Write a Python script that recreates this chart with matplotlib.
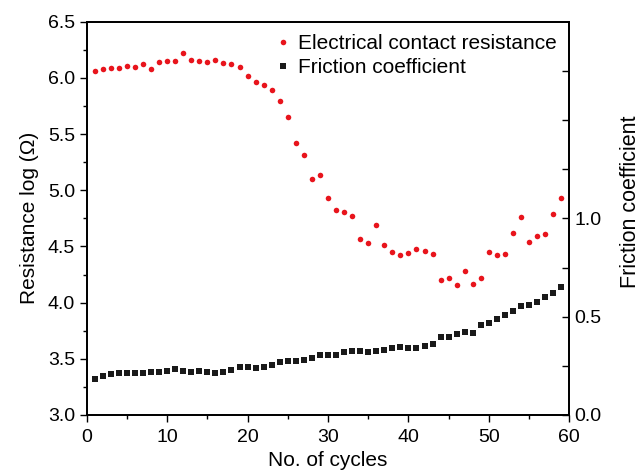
import matplotlib
matplotlib.use("Agg")
import matplotlib.pyplot as plt
from matplotlib.ticker import MultipleLocator, FixedLocator

plt.rcParams["font.family"] = ["Liberation Sans", "DejaVu Sans"]

# 数据: 循环次数 1..59
cycles = list(range(1, 60))

resistance = [
    6.06, 6.08, 6.09, 6.09, 6.11, 6.10, 6.12, 6.08, 6.14, 6.15,
    6.15, 6.22, 6.16, 6.15, 6.14, 6.16, 6.13, 6.12, 6.10, 6.02,
    5.96, 5.94, 5.89, 5.79, 5.65, 5.42, 5.31, 5.10, 5.14, 4.93,
    4.82, 4.81, 4.77, 4.57, 4.53, 4.69, 4.51, 4.45, 4.42, 4.44,
    4.48, 4.46, 4.43, 4.20, 4.22, 4.16, 4.28, 4.17, 4.22, 4.45,
    4.42, 4.43, 4.62, 4.76, 4.54, 4.59, 4.61, 4.79, 4.93,
]

friction = [
    0.182, 0.198, 0.209, 0.214, 0.214, 0.214, 0.215, 0.217, 0.219, 0.226,
    0.236, 0.222, 0.217, 0.226, 0.217, 0.214, 0.217, 0.231, 0.243, 0.246,
    0.239, 0.244, 0.256, 0.270, 0.275, 0.275, 0.280, 0.292, 0.304, 0.304,
    0.304, 0.321, 0.324, 0.326, 0.322, 0.326, 0.332, 0.341, 0.348, 0.341,
    0.343, 0.351, 0.361, 0.395, 0.395, 0.414, 0.424, 0.419, 0.460, 0.468,
    0.489, 0.511, 0.528, 0.553, 0.560, 0.575, 0.601, 0.621, 0.653,
]

fig = plt.figure(figsize=(6.43, 4.72), dpi=100)
ax = fig.add_axes([0.1348, 0.1208, 0.7506, 0.8332])
ax2 = ax.twinx()

l1, = ax.plot(cycles, resistance, "o", color="#e8141c", markersize=4.0,
              markeredgewidth=0, label="Electrical contact resistance")
l2, = ax2.plot(cycles, friction, "s", color="#1a1a1a", markersize=3.7,
               markeredgewidth=0, label="Friction coefficient")

ax.set_xlim(0, 60)
ax.set_ylim(3.0, 6.5)
ax2.set_ylim(0, 2.0)

ax.xaxis.set_major_locator(MultipleLocator(10))
ax.xaxis.set_minor_locator(MultipleLocator(5))
ax.yaxis.set_major_locator(MultipleLocator(0.5))
ax.yaxis.set_minor_locator(MultipleLocator(0.25))
ax.yaxis.set_major_formatter(matplotlib.ticker.FormatStrFormatter("%.1f"))

ax2.yaxis.set_major_locator(FixedLocator([0.0, 0.5, 1.0]))
ax2.yaxis.set_minor_locator(FixedLocator([0.25, 0.75, 1.25, 1.5, 1.75]))
ax2.yaxis.set_major_formatter(matplotlib.ticker.FormatStrFormatter("%.1f"))

ax.tick_params(which="major", direction="out", length=5, width=1.0,
               labelsize=14, top=False, right=False)
ax.tick_params(axis="x", which="major", pad=5)
ax.tick_params(which="minor", direction="out", length=3, width=1.0,
               top=False, right=False)
ax2.tick_params(which="both", direction="in", length=5, width=1.0,
                labelsize=14, left=False)

for sp in ax.spines.values():
    sp.set_linewidth(1.3)
for sp in ax2.spines.values():
    sp.set_linewidth(1.3)

ax.set_xlabel("No. of cycles", fontsize=15, labelpad=4)
ax.set_ylabel("Resistance log (Ω)", fontsize=15, labelpad=6)
ax2.set_ylabel("Friction coefficient", fontsize=15.5)
ax2.yaxis.set_label_coords(1.104, 0.542)

ax.legend([l1, l2], [l1.get_label(), l2.get_label()], loc="upper right",
          frameon=False, fontsize=15, handlelength=0.6, handletextpad=0.4,
          borderaxespad=0.2, labelspacing=0.25, markerscale=1.0)

fig.savefig("out.png", dpi=100)
